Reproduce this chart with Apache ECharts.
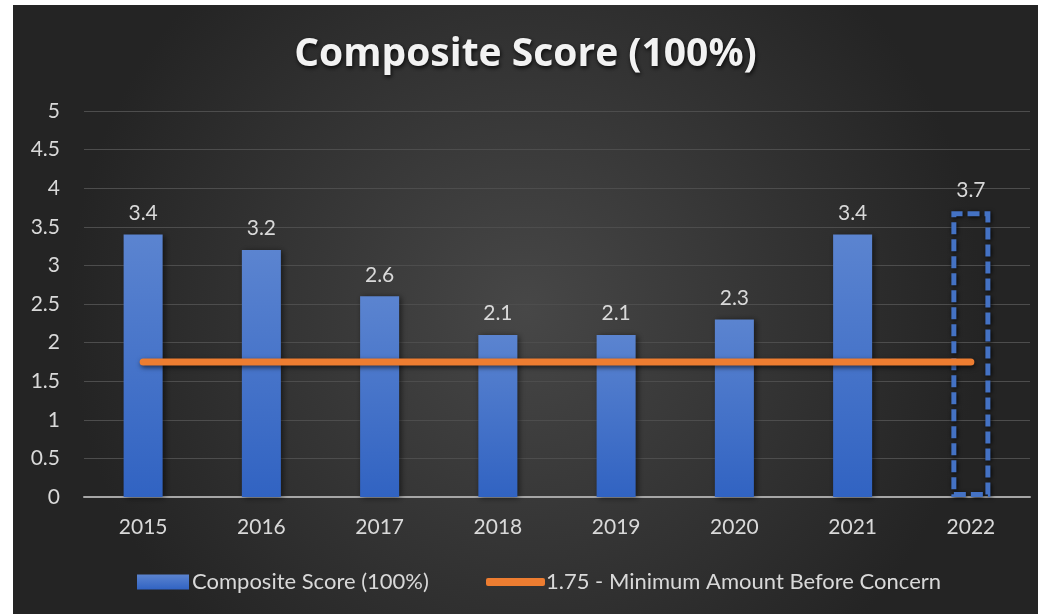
<!DOCTYPE html>
<html>
<head>
<meta charset="utf-8">
<script src="https://cdn.jsdelivr.net/npm/echarts@6/dist/echarts.min.js"></script>
<style>
html,body{margin:0;padding:0;background:#ffffff;width:1038px;height:614px;overflow:hidden;}
#chart{position:absolute;left:13px;top:5px;width:1025px;height:609px;}
</style>
</head>
<body>
<div id="chart"></div>
<script>
const categories = ['2015','2016','2017','2018','2019','2020','2021','2022'];
const scoreValues = [3.4, 3.2, 2.6, 2.1, 2.1, 2.3, 3.4, 3.7];
const projected = [false, false, false, false, false, false, false, true];
const thresholdValues = [1.75, 1.75, 1.75, 1.75, 1.75, 1.75, 1.75, 1.75];
const scoreName = 'Composite Score (100%)';
const thresholdName = '1.75 - Minimum Amount Before Concern';
const titleText = 'Composite Score (100%)';

const chart = echarts.init(document.getElementById('chart'), null, {renderer:'canvas'});
const textColor = '#d9d9d9';
const font = 'Lato, "Open Sans", sans-serif';

const barGradient = new echarts.graphic.LinearGradient(0,0,0,1,[
  {offset:0,color:'#5b84d0'},{offset:1,color:'#3163c2'}]);

const barData = scoreValues.map((v,i) => projected[i] ? {
  value: v,
  itemStyle: {
    color: 'rgba(0,0,0,0)',
    borderColor: '#4472c4',
    borderWidth: 5,
    borderType: [12, 5],
    shadowBlur: 4,
    shadowColor: 'rgba(0,0,0,0.85)',
    shadowOffsetX: 1,
    shadowOffsetY: 1
  }
} : v);

chart.setOption({
  backgroundColor: new echarts.graphic.RadialGradient(0.5,0.5,0.75,[
    {offset:0,color:'#474747'},{offset:1,color:'#242424'}]),
  animation: false,
  title: {
    text: titleText,
    left: 'center',
    top: 25,
    textStyle: {
      color: '#f2f2f2', fontSize: 39, fontWeight: 'bold', fontFamily: '"Open Sans", sans-serif',
      textShadowColor: 'rgba(0,0,0,0.8)', textShadowBlur: 4, textShadowOffsetX: 1, textShadowOffsetY: 2
    }
  },
  legend: [{
    data: [{name: scoreName, icon: 'rect'}],
    left: 119, top: 561,
    itemWidth: 52, itemHeight: 15, itemGap: 4,
    textStyle: {color: textColor, fontSize: 22, fontFamily: font, padding:[0,0,0,-2]}
  },{
    data: [{name: thresholdName, icon: 'roundRect'}],
    left: 468, top: 561,
    itemWidth: 59, itemHeight: 8,
    textStyle: {color: textColor, fontSize: 22, fontFamily: font, padding:[0,0,0,-4]}
  }],
  grid: {left: 71, right: 8, top: 106, bottom: 117, containLabel: false},
  xAxis: {
    type: 'category',
    data: categories,
    axisLine: {lineStyle: {color: '#a6a6a6', width: 2}},
    axisTick: {show: false},
    axisLabel: {color: textColor, fontSize: 21, fontFamily: font, margin: 20}
  },
  yAxis: {
    type: 'value',
    min: 0, max: 5, interval: 0.5,
    axisLine: {show: false},
    axisTick: {show: false},
    axisLabel: {color: textColor, fontSize: 21, fontFamily: font, margin: 24},
    splitLine: {lineStyle: {color: '#4d4d4d', width: 1}}
  },
  series: [{
    name: scoreName,
    type: 'bar',
    data: barData,
    barWidth: '33%',
    z: 3,
    itemStyle: {
      color: barGradient,
      shadowBlur: 6, shadowColor: 'rgba(0,0,0,0.55)', shadowOffsetX: 2, shadowOffsetY: 1
    },
    label: {
      show: true, position: 'top', distance: 11,
      color: textColor, fontSize: 21, fontFamily: font
    }
  },{
    name: thresholdName,
    type: 'line',
    data: thresholdValues,
    symbol: 'none',
    z: 5,
    itemStyle: {color: '#ed7d31'},
    lineStyle: {
      color: '#ed7d31', width: 7, cap: 'round',
      shadowBlur: 5, shadowColor: 'rgba(0,0,0,0.6)', shadowOffsetX: 1, shadowOffsetY: 2
    }
  }]
});
</script>
</body>
</html>
